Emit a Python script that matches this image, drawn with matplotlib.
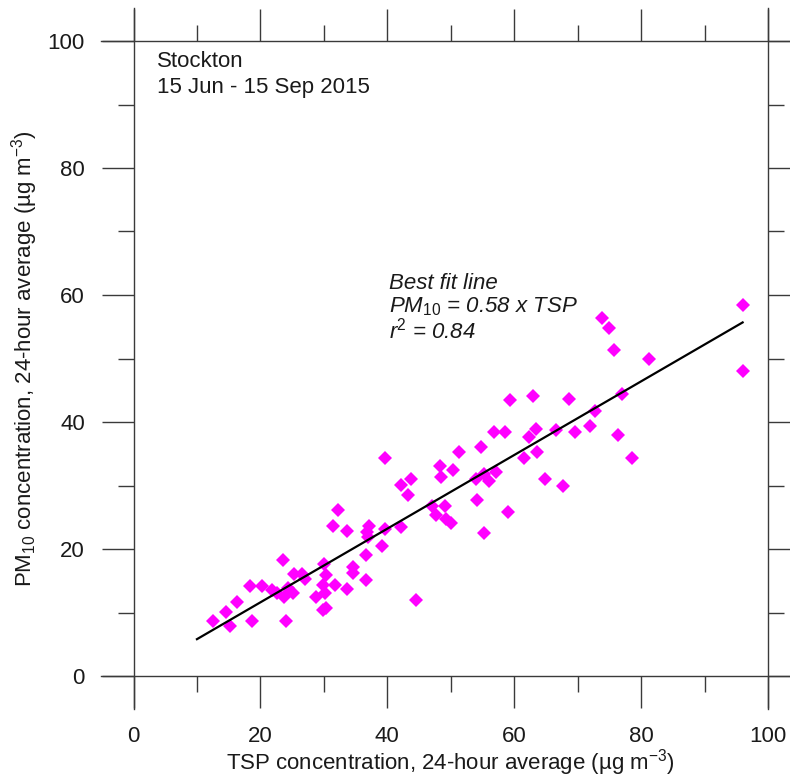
import numpy as np
import matplotlib
matplotlib.use('Agg')
import matplotlib.pyplot as plt

plt.rcParams['font.family'] = ['Liberation Sans', 'DejaVu Sans']
plt.rcParams['mathtext.fontset'] = 'custom'
plt.rcParams['mathtext.rm'] = 'Liberation Sans'
plt.rcParams['mathtext.it'] = 'Liberation Sans:italic'

# 24-hour average concentrations (ug m-3)
tsp = [12.6, 14.5, 15.2, 16.3, 18.3, 18.6, 20.3, 21.8, 22.6, 23.6,
       23.7, 24.1, 24.4, 25.2, 25.3, 26.6, 27.0, 28.8, 29.8, 30.0,
       30.4, 30.2, 30.4, 29.9, 31.5, 32.2, 31.7, 33.6, 33.6, 34.6,
       34.6, 36.7, 36.6, 37.1, 36.8, 37.0, 39.1, 39.6, 42.1, 39.6,
       42.2, 43.8, 43.2, 44.5, 47.0, 47.7, 49.1, 49.2, 50.0, 48.3,
       48.5, 50.3, 51.3, 54.8, 54.1, 55.2, 54.0, 55.3, 56.0, 57.2,
       56.8, 58.6, 59.1, 59.4, 61.6, 62.3, 63.0, 63.5, 63.6, 64.8,
       66.6, 67.7, 68.7, 69.6, 71.9, 72.8, 73.9, 75.0, 75.7, 76.3,
       77.0, 78.6, 81.3, 96.0, 96.1]
pm10 = [8.6, 10.1, 7.9, 11.6, 14.2, 8.6, 14.2, 13.5, 13.0, 18.2,
        12.5, 8.6, 13.8, 13.1, 16.0, 16.1, 15.2, 12.5, 14.3, 17.7,
        15.9, 13.0, 10.7, 10.4, 23.7, 26.1, 14.3, 22.8, 13.7, 17.2,
        16.2, 15.1, 19.1, 23.6, 22.7, 21.9, 20.4, 23.1, 23.5, 34.3,
        30.1, 31.1, 28.5, 12.0, 26.8, 25.3, 26.7, 24.8, 24.1, 33.0,
        31.4, 32.4, 35.2, 36.1, 27.7, 22.5, 31.0, 31.8, 30.7, 32.2,
        38.5, 38.5, 25.9, 43.5, 34.3, 37.6, 44.1, 38.9, 35.2, 31.0,
        38.7, 29.9, 43.7, 38.4, 39.3, 41.8, 56.4, 54.8, 51.4, 38.0,
        44.4, 34.3, 49.9, 58.4, 48.1]

slope = 0.58
fit_x = np.array([10, 96])
fit_y = slope * fit_x

fig = plt.figure(figsize=(7.9, 7.78), dpi=100)
ax = fig.add_axes([133.5 / 790, 1 - 676 / 778, 634.5 / 790, 635 / 778])

ax.plot(tsp, pm10, linestyle='none', marker='D', markersize=6.9,
        markeredgewidth=0, color='#ff00ff', clip_on=False, zorder=3)
ax.plot(fit_x, fit_y, color='black', linewidth=1.6, zorder=4)

ax.set_xlim(0, 100)
ax.set_ylim(0, 100)
ax.set_xticks(np.arange(0, 101, 20))
ax.set_yticks(np.arange(0, 101, 20))
ax.set_xticks(np.arange(10, 100, 20), minor=True)
ax.set_yticks(np.arange(10, 100, 20), minor=True)

axis_col = '#3a3a3a'
ax.tick_params(which='both', direction='out', top=True, right=True,
               color=axis_col, width=1.0, labelsize=16, labelcolor='#1a1a1a')
ax.tick_params(which='major', length=23)
ax.tick_params(which='minor', length=11.5)
ax.tick_params(axis='x', pad=13)
ax.tick_params(axis='y', pad=12)

# axis lines run past the plot box
for side in ['left', 'right']:
    ax.spines[side].set_bounds(-5.2, 105.2)
for side in ['top', 'bottom']:
    ax.spines[side].set_bounds(-5.2, 106)
for sp in ax.spines.values():
    sp.set_color(axis_col)
    sp.set_linewidth(1.0)

ax.set_xlabel('TSP concentration, 24-hour average (µg m$^{-3}$)', fontsize=16,
              color='#1a1a1a')
ax.set_ylabel('PM$_{10}$ concentration, 24-hour average (µg m$^{-3}$)', fontsize=16,
              color='#1a1a1a')
ax.xaxis.set_label_coords(0.5, -0.112)
ax.yaxis.set_label_coords(-0.147, 0.5)

ax.text(3.7, 95.9, 'Stockton', fontsize=16, va='baseline', color='#1a1a1a')
ax.text(3.7, 91.8, '15 Jun - 15 Sep 2015', fontsize=16, va='baseline', color='#1a1a1a')

ax.text(40.2, 60.9, 'Best fit line', fontsize=16, style='italic', va='baseline',
        color='#1a1a1a')
ax.text(40.2, 57.2, 'PM$_{\\mathit{10}}$ = 0.58 x TSP', fontsize=16, style='italic',
        va='baseline', color='#1a1a1a')
ax.text(40.2, 53.2, 'r$^{\\mathit{2}}$ = 0.84', fontsize=16, style='italic',
        va='baseline', color='#1a1a1a')

fig.savefig('out.png', dpi=100)
